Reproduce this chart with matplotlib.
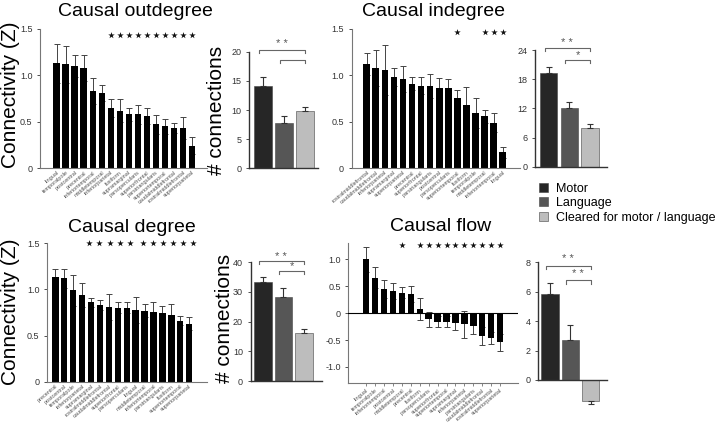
import matplotlib
matplotlib.use('Agg')
import matplotlib.pyplot as plt
import numpy as np

plt.rcParams['font.family'] = ['Liberation Sans', 'DejaVu Sans']

# ---- region panels ----
out_regions = ['lingual', 'temporalpole', 'postcentral', 'precentral', 'inferiortemporal',
               'middletemporal', 'inferiorparietal', 'fusiform', 'supramarginal',
               'parsopercularis', 'superiorfrontal', 'parstriangularis', 'superiortemporal',
               'caudalmiddlefrontal', 'rostralmiddlefrontal', 'superiorparietal']
out_vals = [1.13, 1.12, 1.10, 1.08, 0.83, 0.81, 0.645, 0.62, 0.58, 0.58, 0.56, 0.47, 0.45, 0.435, 0.43, 0.24]
out_err = [0.21, 0.20, 0.12, 0.14, 0.14, 0.09, 0.095, 0.12, 0.07, 0.10, 0.085, 0.105, 0.08, 0.055, 0.12, 0.09]
out_stars = [6, 7, 8, 9, 10, 11, 12, 13, 14, 15]

in_regions = ['rostralmiddlefrontal', 'caudalmiddlefrontal', 'inferiorparietal', 'supramarginal',
              'superiorparietal', 'precentral', 'superiorfrontal', 'parstriangularis', 'postcentral',
              'parsopercularis', 'superiortemporal', 'fusiform', 'temporalpole', 'middletemporal',
              'inferiortemporal', 'lingual']
in_vals = [1.125, 1.08, 1.06, 0.98, 0.96, 0.91, 0.89, 0.88, 0.865, 0.865, 0.76, 0.68, 0.59, 0.56, 0.49, 0.17]
in_err = [0.12, 0.19, 0.27, 0.10, 0.14, 0.07, 0.09, 0.13, 0.11, 0.10, 0.08, 0.19, 0.16, 0.07, 0.10, 0.06]
in_stars = [10, 13, 14, 15]

deg_regions = ['precentral', 'postcentral', 'temporalpole', 'inferiorparietal', 'supramarginal',
               'rostralmiddlefrontal', 'caudalmiddlefrontal', 'superiorfrontal', 'parsopercularis',
               'lingual', 'middletemporal', 'inferiortemporal', 'parstriangularis', 'fusiform',
               'superiortemporal', 'superiorparietal']
deg_vals = [1.13, 1.12, 0.99, 0.94, 0.86, 0.835, 0.81, 0.80, 0.80, 0.78, 0.77, 0.755, 0.74, 0.725, 0.66, 0.63]
deg_err = [0.09, 0.10, 0.17, 0.13, 0.05, 0.055, 0.14, 0.06, 0.06, 0.14, 0.07, 0.105, 0.08, 0.115, 0.05, 0.07]
deg_stars = [3.8, 4.95, 6.1, 7.25, 8.4, 9.85, 10.97, 12.1, 13.2, 14.3, 15.45]

flow_regions = ['lingual', 'temporalpole', 'inferiortemporal', 'postcentral', 'middletemporal',
                'precentral', 'fusiform', 'parsopercularis', 'superiorfrontal', 'superiortemporal',
                'supramarginal', 'inferiorparietal', 'parstriangularis', 'caudalmiddlefrontal',
                'rostralmiddlefrontal', 'superiorparietal']
flow_vals = [1.0, 0.66, 0.45, 0.41, 0.38, 0.36, 0.08, -0.11, -0.16, -0.16, -0.19, -0.21, -0.24, -0.43, -0.46, -0.54]
flow_err = [0.23, 0.19, 0.16, 0.145, 0.10, 0.15, 0.21, 0.14, 0.10, 0.10, 0.12, 0.25, 0.15, 0.17, 0.11, 0.16]
flow_stars = [4, 6, 7, 8, 9, 10, 11, 12, 13, 14, 15]

conn_ticks = [0, 0.5, 1.0, 1.5]
conn_ticklabels = ['0', '0.5', '1.0', '1.5']
flow_ticks = [-1.0, -0.5, 0, 0.5, 1.0]
flow_ticklabels = ['-1.0', '-0.5', '0', '0.5', '1.0']

# ---- group panels ----
groups = ['Motor', 'Language', 'Cleared for motor / language']
group_colors = ['#262626', '#565656', '#bdbdbd']
out_n = [14.1, 7.8, 9.8]
out_n_err = [1.6, 1.1, 0.7]
in_n = [19.2, 12.0, 8.0]
in_n_err = [1.4, 1.3, 0.7]
deg_n = [33.4, 28.4, 16.3]
deg_n_err = [1.7, 3.1, 1.2]
flow_n = [5.83, 2.72, -1.41]
flow_n_err = [0.75, 1.0, 0.22]

W, H = 720, 423
fig = plt.figure(figsize=(7.2, 4.23), dpi=100)


def px_axes(x0, x1, ytop, ybot):
    return fig.add_axes([x0 / W, 1 - ybot / H, (x1 - x0) / W, (ybot - ytop) / H])


def region_panel(ax, names, vals, errs, stars, star_y, xlim, ylim, ticks, ticklabels, flow=False):
    x = np.arange(len(vals))
    ax.bar(x, vals, width=0.72, color='black', zorder=2)
    ax.errorbar(x, vals, yerr=errs, fmt='none', ecolor='#444444', elinewidth=0.7,
                capsize=2, capthick=0.7, zorder=1)
    ax.set_xlim(*xlim)
    ax.set_ylim(*ylim)
    ax.set_yticks(ticks)
    ax.set_yticklabels(ticklabels)
    ax.set_xticks(x)
    ax.set_xticklabels(names, rotation=40, ha='right', rotation_mode='anchor', fontsize=4)
    ax.tick_params(axis='y', labelsize=6.5, length=2, width=0.6, colors='#333333')
    ax.tick_params(axis='x', length=2 if flow else 0, width=0.5, pad=1.5, colors='#555555')
    for s in ['top', 'right']:
        ax.spines[s].set_visible(False)
    for s in ['left', 'bottom']:
        ax.spines[s].set_color('#777777')
        ax.spines[s].set_linewidth(0.8)
    if flow:
        ax.axhline(0, color='black', lw=0.8, zorder=3)
    ax.scatter(stars, [star_y] * len(stars), marker='*', s=24, color='#111111',
               linewidths=0, clip_on=False)


def group_panel(ax, vals, errs, xlim, ylim, ticks, brackets):
    x = np.arange(len(vals))
    bars = ax.bar(x, vals, width=0.85, color=group_colors, edgecolor='#444444', linewidth=0.4, zorder=2)
    lo = [0 if v >= 0 else e for v, e in zip(vals, errs)]
    hi = [e if v >= 0 else 0 for v, e in zip(vals, errs)]
    ax.errorbar(x, vals, yerr=[lo, hi], fmt='none', ecolor='#333333', elinewidth=0.8,
                capsize=2, capthick=0.8, zorder=3)
    ax.set_xlim(*xlim)
    ax.set_ylim(*ylim)
    ax.set_yticks(ticks)
    ax.set_yticklabels([str(t) for t in ticks])
    ax.set_xticks([])
    ax.tick_params(axis='y', labelsize=6.5, length=2, width=0.6, colors='#333333')
    for s in ['top', 'right']:
        ax.spines[s].set_visible(False)
    ax.spines['left'].set_bounds(0, ticks[-1])
    ax.spines['bottom'].set_position(('data', 0))
    for s in ['left', 'bottom']:
        ax.spines[s].set_color('#333333')
        ax.spines[s].set_linewidth(1.0)
    tick = (ylim[1] - ylim[0]) * 0.025
    for (a, b, y, label, ly) in brackets:
        ax.plot([a - 0.2, a - 0.2, b, b], [y - tick, y, y, y - tick], color='#666666', lw=0.8,
                clip_on=False)
        if label:
            ax.text((a - 0.2 + b) / 2, ly, label, ha='center', va='center', fontsize=8,
                    color='#555555', clip_on=False)
    return bars


# top left: causal outdegree
ax1 = px_axes(40, 207, 29, 168)
region_panel(ax1, out_regions, out_vals, out_err, out_stars, 1.44,
             (-1.85, 16.67), (0, 1.5), conn_ticks, conn_ticklabels)
fig.text(135 / W, 1 - 11 / H, 'Causal outdegree', ha='center', va='center', fontsize=14)
fig.text(11 / W, 1 - 95 / H, 'Connectivity (Z)', ha='center', va='center', rotation=90, fontsize=15)

ax2 = px_axes(249.3, 318, 51.7, 168.3)
bars = group_panel(ax2, out_n, out_n_err, (-0.65, 2.6), (0, 20), [0, 5, 10, 15, 20],
                   [(0, 2, 20.3, '* *', 21.4), (1, 2, 18.6, '', 0)])
fig.text(217 / W, 1 - 110 / H, '# connections', ha='center', va='center', rotation=90, fontsize=15)

# top right: causal indegree
ax3 = px_axes(351.7, 520, 29, 168)
region_panel(ax3, in_regions, in_vals, in_err, in_stars, 1.47,
             (-1.65, 16.9), (0, 1.5), conn_ticks, conn_ticklabels)
fig.text(434 / W, 1 - 11 / H, 'Causal indegree', ha='center', va='center', fontsize=14)

ax4 = px_axes(535, 606.7, 50, 166.7)
group_panel(ax4, in_n, in_n_err, (-0.66, 2.8), (0, 24), [0, 6, 12, 18, 24],
            [(0, 2, 24.35, '* *', 25.5), (1, 2, 21.9, '*', 23.0)])

# bottom left: causal degree
ax5 = px_axes(47, 206.7, 243.3, 381.7)
region_panel(ax5, deg_regions, deg_vals, deg_err, deg_stars, 1.5,
             (-0.93, 16.96), (0, 1.5), conn_ticks, conn_ticklabels)
fig.text(132 / W, 1 - 227 / H, 'Causal degree', ha='center', va='center', fontsize=14)
fig.text(11 / W, 1 - 312 / H, 'Connectivity (Z)', ha='center', va='center', rotation=90, fontsize=15)

ax6 = px_axes(250.7, 321.7, 262.3, 381)
group_panel(ax6, deg_n, deg_n_err, (-0.58, 2.85), (0, 40), [0, 10, 20, 30, 40],
            [(0, 2, 40.4, '* *', 41.9), (1, 2, 37.1, '*', 38.7)])
fig.text(225 / W, 1 - 318 / H, '# connections', ha='center', va='center', rotation=90, fontsize=15)

# bottom right: causal flow
ax7 = px_axes(348.3, 518, 243.3, 383)
region_panel(ax7, flow_regions, flow_vals, flow_err, flow_stars, 1.26,
             (-2.0, 17.0), (-1.3, 1.3), flow_ticks, flow_ticklabels, flow=True)
fig.text(441 / W, 1 - 226 / H, 'Causal flow', ha='center', va='center', fontsize=14)

ax8 = px_axes(538.3, 606.7, 262.3, 409.4)
group_panel(ax8, flow_n, flow_n_err, (-0.58, 2.8), (-2, 8), [0, 2, 4, 6, 8],
            [(0, 2, 7.78, '* *', 8.2), (1, 2, 6.8, '* *', 7.2)])

# legend
fig.legend(bars, groups, loc='upper left', bbox_to_anchor=(539 / W, 1 - 183 / H),
           frameon=False, fontsize=9, handlelength=0.75, handleheight=0.75,
           handletextpad=0.6, labelspacing=0.18, borderaxespad=0, borderpad=0)

fig.savefig('out.png', dpi=100)
